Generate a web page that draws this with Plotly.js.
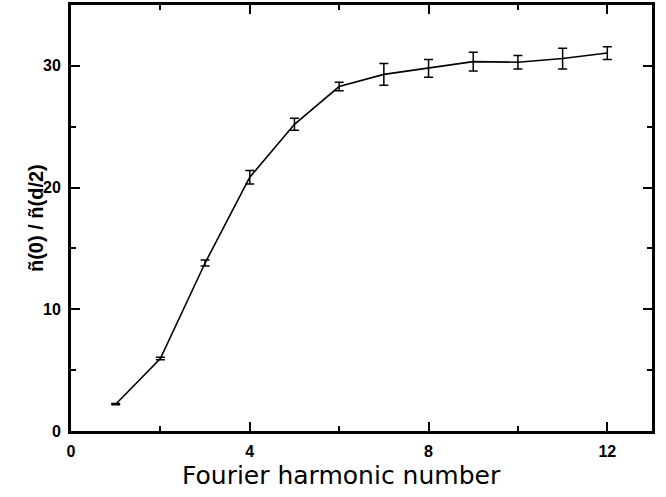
<!DOCTYPE html>
<html>
<head>
<meta charset="utf-8">
<script src="https://cdn.plot.ly/plotly-3.0.1.min.js"></script>
<style>html,body{margin:0;padding:0;background:#fff;}#chart{width:666px;height:497px;}</style>
</head>
<body>
<div id="chart"></div>
<script>
const harmonic = [1, 2, 3, 4, 5, 6, 7, 8, 9, 10, 11, 12];
const ratio = [2.2, 5.95, 13.8, 20.85, 25.2, 28.3, 29.3, 29.8, 30.35, 30.3, 30.6, 31.05];
const ratioErr = [0.05, 0.1, 0.25, 0.55, 0.5, 0.35, 0.9, 0.73, 0.77, 0.56, 0.85, 0.52];
const xTickVals = [0, 4, 8, 12];
const yTickVals = [0, 10, 20, 30];
const xTitle = 'Fourier harmonic number';
const yTitle = 'ñ(0) / ñ(d/2)';

const tickFont = {family: 'Liberation Sans, Arial, sans-serif', size: 16, color: '#000', weight: 'bold'};
const axisCommon = {
  showgrid: false, zeroline: false, showline: true, linecolor: '#000', linewidth: 3,
  mirror: 'ticks', ticks: 'inside', ticklen: 9, tickwidth: 2, tickcolor: '#000',
  tickfont: tickFont
};
const minorCommon = {ticks: 'inside', ticklen: 5, tickwidth: 2, tickcolor: '#000'};

const trace = {
  x: harmonic, y: ratio, type: 'scatter', mode: 'lines',
  line: {color: '#000', width: 1.6},
  error_y: {type: 'data', array: ratioErr, visible: true, color: '#000', thickness: 1.5, width: 4.5},
  hoverinfo: 'none'
};

const layout = {
  width: 666, height: 497,
  margin: {l: 71, r: 14, t: 5, b: 66},
  paper_bgcolor: '#fff', plot_bgcolor: '#fff',
  showlegend: false,
  xaxis: Object.assign({}, axisCommon, {
    range: [0, 13], tickmode: 'array', tickvals: xTickVals, ticktext: xTickVals.map(String),
    ticklabelstandoff: 4,
    minor: Object.assign({}, minorCommon, {tickmode: 'array', tickvals: [2, 6, 10]})
  }),
  yaxis: Object.assign({}, axisCommon, {
    range: [0, 35], tickmode: 'array', tickvals: yTickVals, ticktext: yTickVals.map(String),
    ticklabelstandoff: 4,
    minor: Object.assign({}, minorCommon, {tickmode: 'array', tickvals: [5, 15, 25]})
  }),
  annotations: [
    {text: xTitle, xref: 'paper', yref: 'paper', x: 0.4664, y: -0.1056, xanchor: 'center', yanchor: 'middle',
     showarrow: false, font: {family: 'DejaVu Sans, sans-serif', size: 25, color: '#000'}},
    {text: yTitle, xref: 'paper', yref: 'paper', x: -0.0602, y: 0.5, xanchor: 'center', yanchor: 'middle',
     textangle: -90, showarrow: false, font: {family: 'Liberation Sans, Arial, sans-serif', size: 20, color: '#000', weight: 'bold'}}
  ]
};

Plotly.newPlot('chart', [trace], layout, {staticPlot: true, displayModeBar: false});
</script>
</body>
</html>
